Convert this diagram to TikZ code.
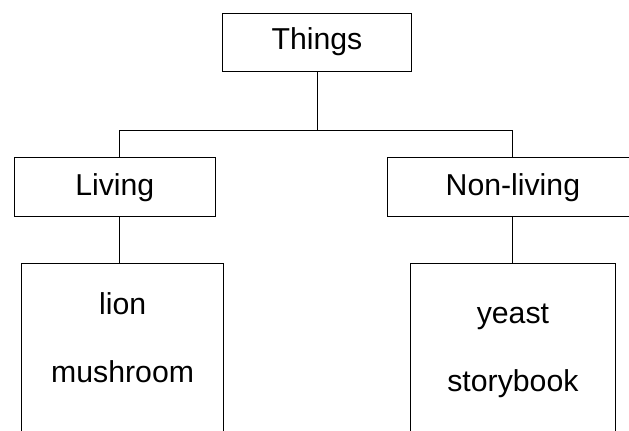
\documentclass[tikz,border=0pt]{standalone}
\usepackage{fontspec}
\setmainfont{Liberation Sans}
\usetikzlibrary{positioning}

\begin{document}
\begin{tikzpicture}[x=0.025cm, y=-0.025cm, line width=0.6pt]
	\tikzstyle{all nodes}=[shape=rectangle]
	\tikzstyle{box}=[draw, inner sep=0pt, font=\fontsize{21.5}{26}\selectfont]
	\tikzstyle{group}=[box, minimum height=1.475cm]
	\tikzstyle{members}=[box, align=center, anchor=north,
		font=\fontsize{21.5}{48}\selectfont, text height=2.24cm, text depth=5cm]
	\useasboundingbox (0,0) rectangle (629,430);
	\clip (0,0) rectangle (629,430);
	% % Nodes
	% root
	\node[box, minimum width=4.725cm, minimum height=1.45cm](things)
	at (317,42) {Things};
	% living things
	\node[group, minimum width=5.04cm, below left=2.15cm and 0.15cm of things]
	(living) {Living};
	% non-living things
	\node[group, minimum width=6.275cm, below right=2.15cm and -0.625cm of things]
	(nonliving) {Non-living};
	% lists
	\node[members, minimum width=5.05cm, inner ysep=0.725cm,
		  below=1.15cm of living, xshift=0.195cm]
	(lionbox) {lion \\ mushroom};
	\node[members, minimum width=5.125cm, inner ysep=0.95cm,
		  below=1.15cm of nonliving]
	(yeastbox) {yeast \\ storybook};
	% % Connectors
	\coordinate (fork) at (317,130);
	\coordinate (forkl) at (119,130);
	\coordinate (forkr) at (512,130);
	\draw (things) -- (fork);
	\draw (forkl) -- (forkr);
	\draw (forkl) -- (forkl |- living.north);
	\draw (forkr) -- (forkr |- nonliving.north);
	\draw (living.south -| forkl) -- (forkl |- lionbox.north);
	\draw (nonliving.south -| forkr) -- (forkr |- yeastbox.north);
\end{tikzpicture}
\end{document}
